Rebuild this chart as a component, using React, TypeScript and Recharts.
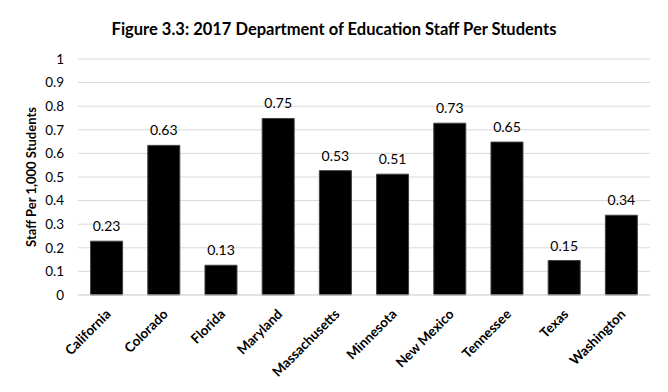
import React from "react";
import {
  BarChart,
  Bar,
  XAxis,
  YAxis,
  CartesianGrid,
  LabelList,
} from "recharts";

const states = [
  "California",
  "Colorado",
  "Florida",
  "Maryland",
  "Massachusetts",
  "Minnesota",
  "New Mexico",
  "Tennessee",
  "Texas",
  "Washington",
];
const staffPerStudents = [0.228, 0.634, 0.126, 0.748, 0.527, 0.512, 0.728, 0.648, 0.146, 0.338];
const yTicks = [0, 0.1, 0.2, 0.3, 0.4, 0.5, 0.6, 0.7, 0.8, 0.9, 1];

const font = "Lato, 'Open Sans', sans-serif";

const StateTick = (props: any) => {
  const { x, y, payload } = props;
  return (
    <text
      x={x + 5}
      y={y + 12}
      textAnchor="end"
      fontFamily={font}
      fontSize={13.5}
      fontWeight="bold"
      fill="#000"
      transform={`rotate(-45, ${x + 5}, ${y + 12})`}
    >
      {payload.value}
    </text>
  );
};

const App = () => {
  const data = states.map((name, i) => ({
    name,
    value: staffPerStudents[i],
  }));

  return (
    <div style={{ position: "absolute", left: 0, top: 0, width: 668, height: 392, background: "#fff" }}>
      <div
        style={{
          position: "absolute",
          top: 19,
          width: 668,
          textAlign: "center",
          fontFamily: font,
          fontWeight: "bold",
          fontSize: 16.5,
          color: "#000",
        }}
      >
        Figure 3.3: 2017 Department of Education Staff Per Students
      </div>
      <BarChart
        width={668}
        height={392}
        data={data}
        margin={{ top: 59, right: 18, left: 0, bottom: 0 }}
        barCategoryGap="22%"
      >
        <CartesianGrid vertical={false} stroke="#d9d9d9" />
        <XAxis
          dataKey="name"
          interval={0}
          tickLine={false}
          axisLine={{ stroke: "#d9d9d9" }}
          tick={<StateTick />}
          height={97}
        />
        <YAxis
          width={78}
          domain={[0, 1]}
          ticks={yTicks}
          interval={0}
          axisLine={false}
          tickLine={false}
          tickSize={0}
          tickMargin={14}
          tick={{ fontFamily: font, fontSize: 13.5, fill: "#000" }}
          label={{
            value: "Staff Per 1,000 Students",
            angle: -90,
            position: "insideLeft",
            offset: 31,
            style: {
              textAnchor: "middle",
              fontFamily: font,
              fontWeight: "bold",
              fontSize: 13,
              fill: "#000",
            },
          }}
        />
        <Bar dataKey="value" fill="#000" stroke="#404040" strokeWidth={1} isAnimationActive={false}>
          <LabelList
            dataKey="value"
            position="top"
            offset={10}
            formatter={(v: any) => Number(v).toFixed(2)}
            style={{ fontFamily: font, fontSize: 14, fill: "#000" }}
          />
        </Bar>
      </BarChart>
    </div>
  );
};

export default App;
